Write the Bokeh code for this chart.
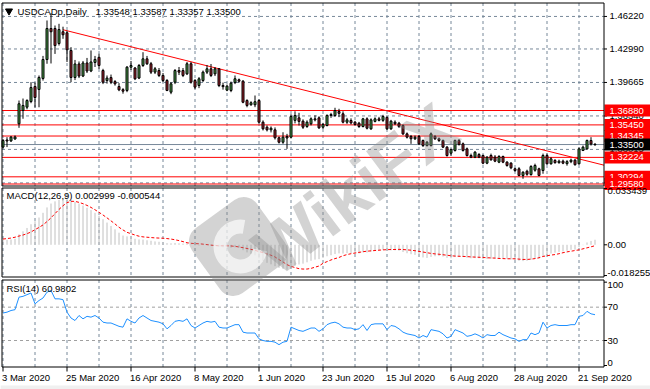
import math
import numpy as np
from bokeh.plotting import figure
from bokeh.models import Range1d, ColumnDataSource
from bokeh.embed import file_html
from bokeh.resources import INLINE
from bokeh.core.properties import value

# ---------------- data ----------------
symbol_title = "USDCADp,Daily"
title_values = "1.33548 1.33587 1.33357 1.33500"
macd_title = "MACD(12,26,9) 0.002999 -0.000544"
rsi_title = "RSI(14) 60.9802"

date_labels = ["3 Mar 2020", "25 Mar 2020", "16 Apr 2020", "8 May 2020", "1 Jun 2020",
               "23 Jun 2020", "15 Jul 2020", "6 Aug 2020", "28 Aug 2020", "21 Sep 2020"]

open_ = [1.3325, 1.3395, 1.3386, 1.3405, 1.3556, 1.3688, 1.3721, 1.3777, 1.3926, 1.3897,
         1.4006, 1.4194, 1.4502, 1.4502, 1.4353, 1.4470, 1.4460, 1.4284, 1.4016, 1.4150,
         1.4030, 1.4160, 1.4080, 1.4165, 1.4216, 1.4085, 1.3985, 1.4015, 1.3975, 1.3926,
         1.3895, 1.3887, 1.4118, 1.4110, 1.4010, 1.4135, 1.4201, 1.4152, 1.4069, 1.4085,
         1.4036, 1.3986, 1.3870, 1.3969, 1.4085, 1.4085, 1.4052, 1.4152, 1.3986, 1.3936,
         1.3986, 1.4069, 1.4102, 1.4052, 1.4102, 1.3936, 1.3890, 1.3887, 1.3965, 1.3993,
         1.3979, 1.3787, 1.3745, 1.3745, 1.3787, 1.3572, 1.3522, 1.3496, 1.3496, 1.3417,
         1.3373, 1.3430, 1.3423, 1.3590, 1.3615, 1.3582, 1.3529, 1.3556, 1.3605, 1.3615,
         1.3522, 1.3539, 1.3638, 1.3638, 1.3678, 1.3655, 1.3572, 1.3589, 1.3572, 1.3562,
         1.3529, 1.3605, 1.3506, 1.3580, 1.3605, 1.3590, 1.3620, 1.3506, 1.3572, 1.3562,
         1.3539, 1.3456, 1.3430, 1.3407, 1.3430, 1.3390, 1.3340, 1.3340, 1.3430, 1.3407,
         1.3390, 1.3324, 1.3264, 1.3291, 1.3390, 1.3357, 1.3307, 1.3241, 1.3224, 1.3251,
         1.3241, 1.3165, 1.3241, 1.3225, 1.3175, 1.3231, 1.3175, 1.3165, 1.3109, 1.3109,
         1.3043, 1.3085, 1.3052, 1.3095, 1.3109, 1.3092, 1.3241, 1.3159, 1.3192, 1.3170,
         1.3185, 1.3160, 1.3180, 1.3195, 1.3159, 1.3291, 1.3307, 1.3390, 1.33548]
high = [1.3405, 1.3423, 1.3435, 1.3440, 1.3787, 1.3807, 1.3800, 1.3969, 1.3966, 1.4036,
        1.4230, 1.4582, 1.4654, 1.4532, 1.4549, 1.4520, 1.4480, 1.4317, 1.4190, 1.4175,
        1.4180, 1.4210, 1.4284, 1.4230, 1.4251, 1.4102, 1.4036, 1.4045, 1.3990, 1.3960,
        1.3910, 1.4130, 1.4180, 1.4120, 1.4150, 1.4267, 1.4230, 1.4170, 1.4120, 1.4110,
        1.4060, 1.4000, 1.3970, 1.4100, 1.4120, 1.4110, 1.4170, 1.4170, 1.4000, 1.4020,
        1.4085, 1.4140, 1.4150, 1.4120, 1.4110, 1.3965, 1.3945, 1.3975, 1.4036, 1.4005,
        1.3990, 1.3800, 1.3780, 1.3837, 1.3800, 1.3590, 1.3540, 1.3530, 1.3520, 1.3430,
        1.3472, 1.3456, 1.3650, 1.3680, 1.3665, 1.3600, 1.3590, 1.3620, 1.3640, 1.3630,
        1.3565, 1.3650, 1.3665, 1.3715, 1.3705, 1.3680, 1.3615, 1.3610, 1.3585, 1.3575,
        1.3615, 1.3620, 1.3610, 1.3620, 1.3625, 1.3645, 1.3630, 1.3595, 1.3590, 1.3575,
        1.3550, 1.3470, 1.3445, 1.3440, 1.3445, 1.3400, 1.3385, 1.3470, 1.3445, 1.3420,
        1.3400, 1.3335, 1.3310, 1.3400, 1.3405, 1.3370, 1.3320, 1.3260, 1.3285, 1.3265,
        1.3250, 1.3235, 1.3260, 1.3245, 1.3245, 1.3240, 1.3185, 1.3175, 1.3120, 1.3125,
        1.3085, 1.3100, 1.3145, 1.3160, 1.3120, 1.3260, 1.3260, 1.3225, 1.3205, 1.3200,
        1.3200, 1.3195, 1.3210, 1.3205, 1.3320, 1.3340, 1.3400, 1.3423, 1.33587]
low = [1.3312, 1.3325, 1.3375, 1.3398, 1.3516, 1.3606, 1.3700, 1.3760, 1.3718, 1.3720,
       1.3985, 1.4152, 1.4155, 1.4250, 1.4333, 1.4400, 1.4170, 1.3969, 1.3990, 1.4010,
       1.4020, 1.4060, 1.4069, 1.4120, 1.4100, 1.3950, 1.3955, 1.3950, 1.3935, 1.3880,
       1.3855, 1.3870, 1.4090, 1.3990, 1.4000, 1.4120, 1.4140, 1.4050, 1.4050, 1.4020,
       1.3970, 1.3880, 1.3850, 1.3950, 1.4040, 1.4020, 1.4040, 1.3955, 1.3900, 1.3910,
       1.3970, 1.4050, 1.4020, 1.4030, 1.3920, 1.3895, 1.3880, 1.3870, 1.3950, 1.3965,
       1.3760, 1.3720, 1.3735, 1.3721, 1.3560, 1.3490, 1.3480, 1.3470, 1.3400, 1.3360,
       1.3357, 1.3307, 1.3410, 1.3560, 1.3539, 1.3505, 1.3515, 1.3540, 1.3580, 1.3505,
       1.3505, 1.3530, 1.3615, 1.3625, 1.3622, 1.3560, 1.3555, 1.3550, 1.3540, 1.3515,
       1.3520, 1.3500, 1.3495, 1.3570, 1.3580, 1.3575, 1.3495, 1.3495, 1.3545, 1.3515,
       1.3445, 1.3410, 1.3357, 1.3395, 1.3345, 1.3325, 1.3330, 1.3330, 1.3395, 1.3375,
       1.3315, 1.3230, 1.3240, 1.3280, 1.3340, 1.3280, 1.3230, 1.3215, 1.3215, 1.3215,
       1.3155, 1.3155, 1.3190, 1.3175, 1.3165, 1.3165, 1.3130, 1.3105, 1.3080, 1.3035,
       1.3010, 1.3040, 1.3040, 1.3080, 1.3035, 1.3060, 1.3150, 1.3150, 1.3160, 1.3160,
       1.3155, 1.3140, 1.3165, 1.3140, 1.3150, 1.3285, 1.3300, 1.3340, 1.33357]
close = [1.3390, 1.3385, 1.3424, 1.3425, 1.3755, 1.3738, 1.3787, 1.3916, 1.3817, 1.4016,
         1.4194, 1.4502, 1.4470, 1.4333, 1.4492, 1.4440, 1.4290, 1.4016, 1.4150, 1.4030,
         1.4160, 1.4080, 1.4170, 1.4195, 1.4135, 1.3969, 1.4010, 1.3969, 1.3953, 1.3893,
         1.3880, 1.4118, 1.4135, 1.4003, 1.4135, 1.4201, 1.4152, 1.4069, 1.4102, 1.4036,
         1.3986, 1.3887, 1.3953, 1.4085, 1.4069, 1.4036, 1.4152, 1.3969, 1.3920, 1.4003,
         1.4069, 1.4102, 1.4036, 1.4102, 1.3936, 1.3925, 1.3930, 1.3959, 1.4003, 1.3979,
         1.3770, 1.3738, 1.3765, 1.3775, 1.3572, 1.3506, 1.3496, 1.3512, 1.3417, 1.3373,
         1.3423, 1.3415, 1.3628, 1.3638, 1.3580, 1.3522, 1.3572, 1.3605, 1.3595, 1.3516,
         1.3549, 1.3638, 1.3648, 1.3688, 1.3660, 1.3572, 1.3595, 1.3565, 1.3549, 1.3529,
         1.3605, 1.3512, 1.3595, 1.3605, 1.3590, 1.3628, 1.3506, 1.3582, 1.3556, 1.3529,
         1.3456, 1.3423, 1.3407, 1.3423, 1.3357, 1.3340, 1.3373, 1.3456, 1.3407, 1.3390,
         1.3324, 1.3241, 1.3300, 1.3390, 1.3350, 1.3291, 1.3241, 1.3224, 1.3274, 1.3224,
         1.3165, 1.3224, 1.3198, 1.3185, 1.3231, 1.3175, 1.3142, 1.3119, 1.3092, 1.3043,
         1.3075, 1.3055, 1.3132, 1.3142, 1.3043, 1.3241, 1.3159, 1.3208, 1.3170, 1.3185,
         1.3165, 1.3180, 1.3195, 1.3150, 1.3307, 1.3324, 1.3390, 1.3355, 1.33500]

macd_main = [0.0030, 0.0030, 0.0032, 0.0036, 0.0062, 0.0080, 0.0100, 0.0122, 0.0140, 0.0162,
             0.0190, 0.0222, 0.0245, 0.0258, 0.0266, 0.0270, 0.0272, 0.0265, 0.0255, 0.0245,
             0.0233, 0.0220, 0.0206, 0.0190, 0.0172, 0.0152, 0.0132, 0.0112, 0.0092, 0.0072,
             0.0055, 0.0050, 0.0044, 0.0036, 0.0032, 0.0031, 0.0027, 0.0024, 0.0020, 0.0018,
             0.0015, 0.0010, 0.0009, 0.0011, 0.0009, 0.0007, 0.0008, 0.0002, -0.0003, -0.0004,
             -0.0002, -0.0001, -0.0004, -0.0004, -0.0011, -0.0015, -0.0017, -0.0017, -0.0015, -0.0017,
             -0.0032, -0.0045, -0.0055, -0.0062, -0.0080, -0.0095, -0.0107, -0.0116, -0.0127, -0.0137,
             -0.0143, -0.0148, -0.0135, -0.0125, -0.0117, -0.0112, -0.0104, -0.0095, -0.0088, -0.0085,
             -0.0078, -0.0068, -0.0062, -0.0055, -0.0051, -0.0052, -0.0050, -0.0050, -0.0050, -0.0051,
             -0.0045, -0.0046, -0.0040, -0.0036, -0.0034, -0.0030, -0.0035, -0.0033, -0.0033, -0.0035,
             -0.0043, -0.0050, -0.0056, -0.0060, -0.0068, -0.0075, -0.0078, -0.0072, -0.0068, -0.0067,
             -0.0070, -0.0078, -0.0080, -0.0073, -0.0070, -0.0072, -0.0077, -0.0080, -0.0079, -0.0080,
             -0.0085, -0.0084, -0.0083, -0.0081, -0.0079, -0.0080, -0.0083, -0.0087, -0.0090, -0.0095,
             -0.0097, -0.0095, -0.0089, -0.0082, -0.0081, -0.0066, -0.0060, -0.0052, -0.0047, -0.0042,
             -0.0039, -0.0035, -0.0030, -0.0029, -0.0014, -0.0002, 0.0014, 0.0023, 0.002999]
macd_signal = [0.0034, 0.0037, 0.0040, 0.0045, 0.0052, 0.0058, 0.0066, 0.0076, 0.0090, 0.0103,
               0.0118, 0.0138, 0.0160, 0.0185, 0.0210, 0.0232, 0.0250, 0.0258, 0.0258, 0.0252,
               0.0244, 0.0234, 0.0222, 0.0208, 0.0193, 0.0177, 0.0160, 0.0142, 0.0124, 0.0104,
               0.0088, 0.0074, 0.0066, 0.0058, 0.0051, 0.0047, 0.0045, 0.0043, 0.0041, 0.0040,
               0.0039, 0.0037, 0.0034, 0.0030, 0.0025, 0.0019, 0.0012, 0.0009, 0.0007, 0.0006,
               0.0004, 0.0001, -0.0002, -0.0004, -0.0006, -0.0006, -0.0006, -0.0007, -0.0009, -0.0013,
               -0.0017, -0.0022, -0.0027, -0.0033, -0.0040, -0.0046, -0.0054, -0.0062, -0.0072, -0.0088,
               -0.0102, -0.0118, -0.0128, -0.0135, -0.0142, -0.0144, -0.0144, -0.0140, -0.0133, -0.0126,
               -0.0110, -0.0100, -0.0090, -0.0082, -0.0075, -0.0065, -0.0058, -0.0053, -0.0049, -0.0045,
               -0.0041, -0.0038, -0.0036, -0.0034, -0.0032, -0.0030, -0.0029, -0.0028, -0.0028, -0.0027,
               -0.0028, -0.0030, -0.0032, -0.0035, -0.0039, -0.0043, -0.0047, -0.0051, -0.0054, -0.0056,
               -0.0059, -0.0062, -0.0065, -0.0067, -0.0068, -0.0069, -0.0070, -0.0072, -0.0073, -0.0074,
               -0.0075, -0.0077, -0.0078, -0.0079, -0.0081, -0.0082, -0.0083, -0.0083, -0.0083, -0.0085,
               -0.0087, -0.0087, -0.0085, -0.0082, -0.0077, -0.0069, -0.0065, -0.0061, -0.0058, -0.0053,
               -0.0047, -0.0042, -0.0038, -0.0034, -0.0030, -0.0024, -0.0018, -0.0012, -0.000544]
rsi14 = [63, 64, 66, 67, 82, 83, 85, 87, 74, 78, 81, 88, 90, 80, 80, 79, 64, 57, 54, 60,
         56, 59, 58, 60, 57, 52, 51, 51, 49, 47, 46, 56, 53, 51, 57, 60, 57, 54, 53, 52,
         50, 44, 48, 53, 54, 53, 56, 48, 45, 48, 51, 53, 52, 53, 46, 45, 45, 47, 49, 49,
         40, 39, 39, 39, 32, 30, 29, 29, 28, 25, 28, 29, 46, 44, 42, 41, 43, 45, 45, 41,
         44, 49, 51, 52, 50, 46, 45, 45, 43, 44, 49, 42, 49, 50, 50, 50, 43, 48, 47, 44,
         40, 38, 37, 36, 33, 36, 34, 43, 42, 41, 38, 33, 35, 43, 41, 39, 35, 36, 38, 36,
         33, 37, 36, 36, 40, 37, 35, 33, 32, 29, 31, 31, 39, 37, 39, 52, 45, 48, 49, 48,
         48, 48, 49, 49, 59, 60, 65, 62, 60.9802]

price_ticks = [1.46220, 1.42990, 1.39665, 1.36340, 1.33015, 1.29690]
price_tick_labels = ["1.46220", "1.42990", "1.39665", "1.36340", "1.33015", "1.29690"]
level_prices = [1.36880, 1.35450, 1.34345, 1.32224, 1.30294, 1.29580]
level_labels = ["1.36880", "1.35450", "1.34345", "1.32224", "1.30294", "1.29580"]
bid_price = 1.33500
bid_label = "1.33500"
trend_bars = [15, 150.25]
trend_prices = [1.4490, 1.3145]
macd_ticks = [0.033439, 0.0, -0.018255]
macd_tick_labels = ["0.033439", "0.00", "-0.018255"]
rsi_ticks = [100, 70, 30, 0]
rsi_tick_labels = ["100", "70", "30", "0"]
rsi_levels = [70, 30]
watermark_text = "WikiFX"

# ---------------- layout helpers (pixel -> data) ----------------
W, H = 650, 389
BAR_PX = 4.0


def bx(px):
    return (px - 2.5) / BAR_PX


def y_main(py):
    return 1.36880 + (110.0 - py) / 1007.0


def y_macd(py):
    return (244.3 - py) / 1684.0


def y_rsi(py):
    return (365.0 - py) * 1.2


FONT = value("Liberation Sans")
FS = "9.5px"
GRID = "#778899"
BULL = "#4a9e4a"
BEAR = "#a3222c"

p = figure(width=W, height=H, x_range=Range1d(bx(0), bx(W)),
           y_range=Range1d(y_main(H), y_main(0)),
           output_backend="svg", toolbar_location=None, tools="",
           min_border=0, x_axis_location=None, y_axis_location=None, title=None)
p.extra_y_ranges = {"macd": Range1d(y_macd(H), y_macd(0)),
                    "rsi": Range1d(y_rsi(H), y_rsi(0))}
p.grid.grid_line_color = None
p.outline_line_color = None
p.background_fill_color = "white"
p.border_fill_color = "white"

n = len(close)
xs = list(range(n))
date_bars = [16 * k for k in range(len(date_labels))]
grid_bars = [8 * k for k in range(2 * len(date_labels) - 1)]

LEFT, RIGHT = bx(1.5), bx(603.5)
panels = {
    "default": (y_main, 2.5, 185.5),
    "macd": (y_macd, 187.5, 276.5),
    "rsi": (y_rsi, 279.5, 366.5),
}

# bottom strip
p.quad(left=bx(0), right=bx(W), top=y_rsi(385), bottom=y_rsi(H), y_range_name="rsi",
       fill_color="#f0f0f0", line_color=None)

# vertical grid in each panel
for name, (fy, ytop, ybot) in panels.items():
    p.segment(x0=grid_bars, y0=fy(ytop), x1=grid_bars, y1=fy(ybot), y_range_name=name,
              line_color=GRID, line_dash="3 3", line_width=1)

# ---------------- main panel ----------------
p.segment(x0=LEFT, y0=price_ticks, x1=RIGHT, y1=price_ticks,
          line_color=GRID, line_dash="3 3", line_width=1)
p.segment(x0=LEFT, y0=level_prices, x1=RIGHT, y1=level_prices, line_color="#ff0000", line_width=1)
p.segment(x0=[LEFT], y0=[bid_price], x1=[RIGHT], y1=[bid_price], line_color=GRID, line_width=1)
p.line(trend_bars, trend_prices, line_color="#ff0000", line_width=1)

o = np.array(open_)
c = np.array(close)
src = ColumnDataSource(dict(
    x=xs, high=high, low=low,
    top=np.maximum(o, c), bottom=np.minimum(o, c),
    color=[BULL if cc >= oo else BEAR for oo, cc in zip(open_, close)],
))
p.segment(x0="x", y0="low", x1="x", y1="high", source=src, line_color="black", line_width=1)
p.vbar(x="x", width=0.5, top="top", bottom="bottom", source=src,
       fill_color="color", line_color="black", line_width=1)

p.scatter(x=[bx(8.5)], y=[y_main(10.5)], marker="inverted_triangle", size=7,
          fill_color="black", line_color="black")
p.text(x=[bx(17)], y=[y_main(11)], text=[symbol_title], text_font=FONT, text_font_size=FS,
       text_baseline="middle", text_color="black")
p.text(x=[bx(95)], y=[y_main(11)], text=[title_values], text_font=FONT, text_font_size=FS,
       text_baseline="middle", text_color="black")

# price axis labels
p.segment(x0=RIGHT, y0=price_ticks, x1=bx(606.5), y1=price_ticks, line_color="black")
p.text(x=bx(609), y=price_ticks, text=price_tick_labels, text_font=FONT, text_font_size=FS,
       text_baseline="middle", text_color="black")
for lv, lab in zip(level_prices, level_labels):
    p.rect(x=[bx(627)], y=[lv], width=46, height=12, width_units="screen", height_units="screen",
           fill_color="#ff0000", line_color=None)
    p.text(x=[bx(609)], y=[lv], text=[lab], text_font=FONT, text_font_size=FS,
           text_baseline="middle", text_color="white")
p.rect(x=[bx(627)], y=[bid_price], width=46, height=12, width_units="screen", height_units="screen",
       fill_color="black", line_color=None)
p.text(x=[bx(609)], y=[bid_price], text=[bid_label], text_font=FONT, text_font_size=FS,
       text_baseline="middle", text_color="white")

# ---------------- MACD panel ----------------
p.segment(x0=xs, y0=0, x1=xs, y1=macd_main, y_range_name="macd", line_color="#c0c0c0", line_width=1)
p.line(xs, macd_signal, y_range_name="macd", line_color="#ff0000", line_dash="3 2", line_width=1)
p.text(x=[bx(6)], y=[y_macd(195)], text=[macd_title], y_range_name="macd", text_font=FONT,
       text_font_size=FS, text_baseline="middle", text_color="black")
p.segment(x0=RIGHT, y0=macd_ticks, x1=bx(606.5), y1=macd_ticks, y_range_name="macd", line_color="black")
for t, lab, bl in zip(macd_ticks, macd_tick_labels, ["top", "middle", "bottom"]):
    p.text(x=[bx(607)], y=[t], text=[lab], y_range_name="macd", text_font=FONT, text_font_size=FS,
           text_baseline=bl, text_color="black")

# ---------------- RSI panel ----------------
p.segment(x0=LEFT, y0=rsi_levels, x1=RIGHT, y1=rsi_levels, y_range_name="rsi",
          line_color="#a0a0a0", line_dash="3 3", line_width=1)
p.line(xs, rsi14, y_range_name="rsi", line_color="#1e90ff", line_width=1)
p.text(x=[bx(6)], y=[y_rsi(287.5)], text=[rsi_title], y_range_name="rsi", text_font=FONT,
       text_font_size=FS, text_baseline="middle", text_color="black")
p.segment(x0=RIGHT, y0=rsi_ticks, x1=bx(606.5), y1=rsi_ticks, y_range_name="rsi", line_color="black")
for t, lab, bl in zip(rsi_ticks, rsi_tick_labels, ["top", "middle", "middle", "bottom"]):
    p.text(x=[bx(607)], y=[t], text=[lab], y_range_name="rsi", text_font=FONT, text_font_size=FS,
           text_baseline=bl, text_color="black")

# date axis
p.segment(x0=date_bars, y0=y_rsi(366.5), x1=date_bars, y1=y_rsi(371), y_range_name="rsi",
          line_color="black")
p.text(x=date_bars, y=y_rsi(377), text=date_labels, x_offset=-1, y_range_name="rsi",
       text_font=FONT, text_font_size=FS, text_baseline="middle", text_align="left",
       text_color="black")

# panel borders
for name, (fy, ytop, ybot) in panels.items():
    p.quad(left=LEFT, right=RIGHT, top=fy(ytop), bottom=fy(ybot), y_range_name=name,
           fill_color=None, line_color="black", line_width=1)

# ---------------- watermark ----------------
WM = "#8c8c8c"
WA = 0.38
p.rect(x=[bx(238)], y=[y_main(246)], width=80, height=80, width_units="screen",
       height_units="screen", angle=math.radians(36), border_radius=16,
       fill_color=WM, fill_alpha=WA, line_color=None)
p.annular_wedge(x=[bx(240)], y=[y_main(246)], inner_radius=13, outer_radius=27,
                inner_radius_units="screen", outer_radius_units="screen",
                start_angle=math.radians(80), end_angle=math.radians(350),
                fill_color="white", fill_alpha=0.65, line_color=None)
p.text(x=[bx(262)], y=[y_main(259)], text=[watermark_text], angle=math.radians(37),
       text_font=FONT, text_font_style="bold", text_font_size="70px",
       text_color=WM, text_alpha=WA, text_baseline="alphabetic", text_align="left")

open("out.html", "w").write(file_html(p, INLINE))
